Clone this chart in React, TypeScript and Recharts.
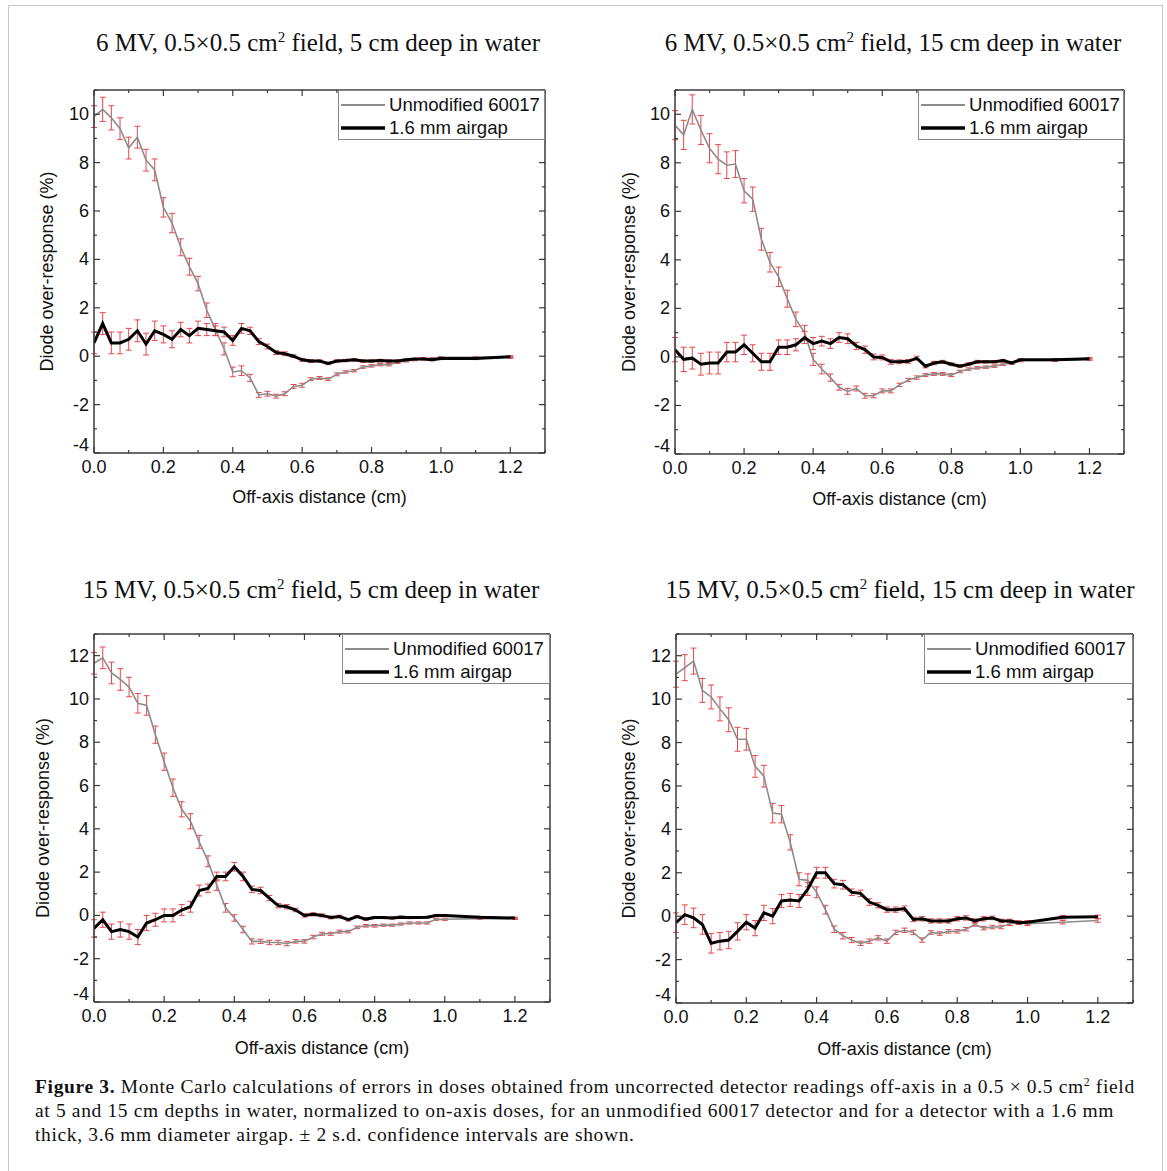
import React from 'react';
import { LineChart, Line, XAxis, YAxis, ErrorBar, Legend } from 'recharts';

// off-axis positions (cm), shared by all four panels
const offAxis = [
    0, 0.025, 0.05, 0.075, 0.1, 0.125, 0.15, 0.175, 0.2, 0.225,
    0.25, 0.275, 0.3, 0.325, 0.35, 0.375, 0.4, 0.425, 0.45, 0.475,
    0.5, 0.525, 0.55, 0.575, 0.6, 0.625, 0.65, 0.675, 0.7, 0.725,
    0.75, 0.775, 0.8, 0.825, 0.85, 0.875, 0.9, 0.925, 0.95, 0.975,
    1.0, 1.1, 1.2,
];

// 6 MV, 5 cm
const unmod6MV5cm = [
    9.9, 10.2, 9.85, 9.4, 8.6, 9.05, 8.1, 7.7, 6.15, 5.5,
    4.5, 3.7, 3.0, 1.9, 1.1, 0.3, -0.65, -0.6, -0.9, -1.6,
    -1.55, -1.65, -1.55, -1.25, -1.2, -0.95, -0.9, -0.95, -0.75, -0.65,
    -0.6, -0.45, -0.4, -0.35, -0.35, -0.25, -0.2, -0.15, -0.1, -0.1,
    -0.05, -0.05, -0.05,
];
const unmod6MV5cmErr = [
    0.45, 0.5, 0.5, 0.45, 0.45, 0.45, 0.45, 0.45, 0.4, 0.4,
    0.35, 0.35, 0.3, 0.3, 0.25, 0.25, 0.2, 0.2, 0.15, 0.1,
    0.1, 0.08, 0.08, 0.08, 0.08, 0.06, 0.06, 0.06, 0.06, 0.05,
    0.05, 0.05, 0.05, 0.05, 0.05, 0.05, 0.04, 0.04, 0.04, 0.04,
    0.04, 0.04, 0.04,
];
const gap6MV5cm = [
    0.55, 1.35, 0.55, 0.55, 0.7, 1.05, 0.5, 1.05, 0.9, 0.7,
    1.1, 0.85, 1.15, 1.1, 1.05, 1.0, 0.65, 1.15, 1.05, 0.6,
    0.4, 0.15, 0.1, 0.0, -0.15, -0.2, -0.2, -0.3, -0.2, -0.18,
    -0.15, -0.2, -0.2, -0.18, -0.2, -0.2, -0.15, -0.12, -0.12, -0.15,
    -0.1, -0.1, -0.02,
];
const gap6MV5cmErr = [
    0.45, 0.45, 0.45, 0.45, 0.45, 0.45, 0.45, 0.4, 0.35, 0.35,
    0.3, 0.3, 0.3, 0.25, 0.2, 0.2, 0.2, 0.2, 0.15, 0.12,
    0.1, 0.08, 0.08, 0.06, 0.06, 0.06, 0.05, 0.05, 0.05, 0.05,
    0.05, 0.05, 0.05, 0.05, 0.05, 0.05, 0.04, 0.04, 0.04, 0.04,
    0.04, 0.04, 0.04,
];

// 6 MV, 15 cm
const unmod6MV15cm = [
    9.55, 9.15, 10.2, 9.35, 8.6, 8.15, 7.9, 7.95, 6.85, 6.5,
    4.85, 3.9, 3.3, 2.4, 1.55, 1.0, -0.1, -0.5, -0.85, -1.25,
    -1.42, -1.3, -1.6, -1.6, -1.4, -1.4, -1.15, -0.95, -0.85, -0.75,
    -0.7, -0.7, -0.75, -0.6, -0.5, -0.45, -0.42, -0.38, -0.3, -0.25,
    -0.15, -0.15, -0.1,
];
const unmod6MV15cmErr = [
    0.6, 0.6, 0.6, 0.6, 0.6, 0.6, 0.55, 0.55, 0.5, 0.5,
    0.45, 0.4, 0.4, 0.35, 0.3, 0.3, 0.25, 0.2, 0.15, 0.12,
    0.12, 0.1, 0.1, 0.08, 0.08, 0.08, 0.07, 0.07, 0.07, 0.06,
    0.06, 0.06, 0.06, 0.05, 0.05, 0.05, 0.05, 0.05, 0.05, 0.05,
    0.05, 0.04, 0.04,
];
const gap6MV15cm = [
    0.3, -0.1, -0.05, -0.3, -0.25, -0.25, 0.2, 0.2, 0.5, 0.15,
    -0.2, -0.2, 0.4, 0.4, 0.5, 0.8, 0.55, 0.65, 0.55, 0.8,
    0.75, 0.45, 0.3, 0.0, -0.02, -0.2, -0.2, -0.18, -0.05, -0.38,
    -0.25, -0.2, -0.3, -0.38, -0.3, -0.2, -0.2, -0.2, -0.15, -0.25,
    -0.12, -0.12, -0.07,
];
const gap6MV15cmErr = [
    0.5, 0.5, 0.45, 0.45, 0.45, 0.45, 0.4, 0.4, 0.4, 0.35,
    0.35, 0.35, 0.3, 0.3, 0.25, 0.25, 0.25, 0.2, 0.2, 0.2,
    0.2, 0.15, 0.15, 0.12, 0.1, 0.1, 0.08, 0.08, 0.08, 0.07,
    0.07, 0.06, 0.06, 0.06, 0.06, 0.06, 0.05, 0.05, 0.05, 0.05,
    0.05, 0.05, 0.05,
];

// 15 MV, 5 cm
const unmod15MV5cm = [
    11.65, 11.9, 11.2, 10.9, 10.55, 9.8, 9.7, 8.35, 7.1, 5.9,
    4.9, 4.35, 3.4, 2.5, 1.4, 0.35, -0.12, -0.65, -1.2, -1.2,
    -1.25, -1.25, -1.3, -1.2, -1.2, -1.0, -0.85, -0.85, -0.75, -0.75,
    -0.55, -0.48, -0.48, -0.45, -0.45, -0.4, -0.35, -0.35, -0.35, -0.18,
    -0.18, -0.15, -0.15,
];
const unmod15MV5cmErr = [
    0.5, 0.5, 0.5, 0.5, 0.45, 0.45, 0.45, 0.4, 0.4, 0.4,
    0.35, 0.35, 0.3, 0.25, 0.25, 0.2, 0.15, 0.15, 0.12, 0.1,
    0.1, 0.1, 0.1, 0.08, 0.08, 0.08, 0.07, 0.07, 0.07, 0.06,
    0.06, 0.06, 0.06, 0.05, 0.05, 0.05, 0.05, 0.05, 0.05, 0.05,
    0.05, 0.04, 0.04,
];
const gap15MV5cm = [
    -0.6, -0.2, -0.75, -0.65, -0.75, -1.0, -0.35, -0.2, 0.0, 0.0,
    0.25, 0.4, 1.15, 1.25, 1.8, 1.8, 2.25, 1.8, 1.2, 1.15,
    0.8, 0.45, 0.4, 0.25, 0.0, 0.05, 0.0, -0.1, -0.05, -0.2,
    -0.05, -0.17, -0.1, -0.1, -0.12, -0.08, -0.1, -0.1, -0.08, 0.0,
    0.0, -0.08, -0.12,
];
const gap15MV5cmErr = [
    0.4, 0.35, 0.35, 0.35, 0.35, 0.35, 0.35, 0.3, 0.3, 0.3,
    0.25, 0.25, 0.25, 0.2, 0.2, 0.2, 0.2, 0.2, 0.15, 0.15,
    0.12, 0.1, 0.1, 0.08, 0.08, 0.07, 0.07, 0.06, 0.06, 0.06,
    0.05, 0.05, 0.05, 0.05, 0.05, 0.05, 0.05, 0.04, 0.04, 0.04,
    0.04, 0.04, 0.04,
];

// 15 MV, 15 cm
const unmod15MV15cm = [
    11.15, 11.45, 11.75, 10.4, 10.1, 9.55, 9.05, 8.15, 8.15, 6.9,
    6.45, 4.75, 4.7, 3.4, 1.7, 1.65, 1.1, 0.3, -0.6, -0.9,
    -1.1, -1.25, -1.15, -1.0, -1.15, -0.75, -0.65, -0.75, -1.1, -0.75,
    -0.8, -0.7, -0.7, -0.6, -0.38, -0.55, -0.5, -0.5, -0.35, -0.3,
    -0.35, -0.28, -0.2,
];
const unmod15MV15cmErr = [
    0.6, 0.6, 0.6, 0.55, 0.55, 0.55, 0.55, 0.55, 0.5, 0.5,
    0.5, 0.45, 0.4, 0.35, 0.3, 0.3, 0.25, 0.2, 0.15, 0.15,
    0.12, 0.1, 0.1, 0.1, 0.1, 0.1, 0.1, 0.1, 0.1, 0.08,
    0.08, 0.08, 0.08, 0.08, 0.08, 0.08, 0.08, 0.08, 0.08, 0.08,
    0.08, 0.08, 0.08,
];
const gap15MV15cm = [
    -0.3, 0.07, -0.08, -0.38, -1.25, -1.15, -1.1, -0.7, -0.28, -0.55,
    0.15, 0.0, 0.7, 0.75, 0.7, 1.25, 2.0, 2.0, 1.5, 1.45,
    1.1, 1.05, 0.65, 0.5, 0.3, 0.3, 0.35, -0.15, -0.12, -0.22,
    -0.22, -0.22, -0.12, -0.08, -0.22, -0.12, -0.08, -0.22, -0.22, -0.3,
    -0.28, -0.05, -0.03,
];
const gap15MV15cmErr = [
    0.45, 0.45, 0.45, 0.45, 0.45, 0.4, 0.4, 0.4, 0.35, 0.35,
    0.35, 0.35, 0.3, 0.3, 0.3, 0.3, 0.25, 0.25, 0.2, 0.2,
    0.15, 0.15, 0.15, 0.12, 0.12, 0.12, 0.12, 0.1, 0.1, 0.1,
    0.1, 0.1, 0.1, 0.1, 0.1, 0.1, 0.08, 0.08, 0.08, 0.08,
    0.08, 0.08, 0.08,
];

const xTicks = [0, 0.1, 0.2, 0.3, 0.4, 0.5, 0.6, 0.7, 0.8, 0.9, 1.0, 1.1, 1.2, 1.3];
const yTicks11 = [-4, -3, -2, -1, 0, 1, 2, 3, 4, 5, 6, 7, 8, 9, 10, 11];
const yTicks13 = [-4, -3, -2, -1, 0, 1, 2, 3, 4, 5, 6, 7, 8, 9, 10, 11, 12, 13];

const SANS = '"Liberation Sans", Arial, sans-serif';
const SERIF = '"Liberation Serif", "Times New Roman", serif';
const AXIS = '#3a3a3a';
const ERR = '#e8474a';

const isMajorX = (v: number) => Math.round(v * 10) % 2 === 0;
const isMajorY = (v: number) => Math.abs(v) % 2 === 0;

// ticks point inwards, like the original plot; labels only on major ticks
const BottomTick = (props: any) => {
    const { x, y, payload } = props;
    const v = payload.value;
    const major = isMajorX(v);
    return (
        <g>
            <line x1={x} y1={y} x2={x} y2={y - (major ? 6 : 3)} stroke={AXIS} strokeWidth={1.2} />
            {major && v <= 1.2 && (
                <text x={x} y={y + 20} textAnchor="middle" fontSize={18} fontFamily={SANS} fill="#111">
                    {v.toFixed(1)}
                </text>
            )}
        </g>
    );
};

const TopTick = (props: any) => {
    const { x, y, payload } = props;
    const major = isMajorX(payload.value);
    return <line x1={x} y1={y} x2={x} y2={y + (major ? 6 : 3)} stroke={AXIS} strokeWidth={1.2} />;
};

const LeftTick = (props: any) => {
    const { x, y, payload } = props;
    const v = payload.value;
    const major = isMajorY(v);
    // the lowest label sits a little higher so it clears the "0.0" below it
    const dy = v === -4 ? -2 : 6;
    return (
        <g>
            <line x1={x} y1={y} x2={x + (major ? 6 : 3)} y2={y} stroke={AXIS} strokeWidth={1.2} />
            {major && (
                <text x={x - 5} y={y + dy} textAnchor="end" fontSize={18} fontFamily={SANS} fill="#111">
                    {v}
                </text>
            )}
        </g>
    );
};

const RightTick = (props: any) => {
    const { x, y, payload } = props;
    const major = isMajorY(payload.value);
    return <line x1={x} y1={y} x2={x - (major ? 6 : 3)} y2={y} stroke={AXIS} strokeWidth={1.2} />;
};

const LegendBox = ({ width }: { width: number }) => (
    <div
        style={{
            width,
            height: 50,
            boxSizing: 'border-box',
            border: '1px solid #888',
            background: '#fff',
            fontFamily: SANS,
            fontSize: 18.6,
            color: '#111',
            paddingTop: 2,
            whiteSpace: 'nowrap',
        }}
    >
        <div style={{ display: 'flex', alignItems: 'center', height: 23 }}>
            <svg width={48} height={10} style={{ marginLeft: 2 }}>
                <line x1={0} y1={5} x2={44} y2={5} stroke="#8c8c8c" strokeWidth={2} />
            </svg>
            <span>Unmodified 60017</span>
        </div>
        <div style={{ display: 'flex', alignItems: 'center', height: 23 }}>
            <svg width={48} height={10} style={{ marginLeft: 2 }}>
                <line x1={0} y1={5} x2={44} y2={5} stroke="#000" strokeWidth={3.5} />
            </svg>
            <span>1.6 mm airgap</span>
        </div>
    </div>
);

interface PanelProps {
    left: number;
    top: number;
    width: number;
    height: number;
    plot: { top: number; right: number; bottom: number; left: number }; // plot edges, chart-local px
    unmod: number[];
    unmodErr: number[];
    gap: number[];
    gapErr: number[];
    yMax: number;
    yTicks: number[];
    yLabelOffset: number;
    xLabelOffset: number;
    legendWidth: number;
}

const Panel: React.FC<PanelProps> = (p) => {
    const data = offAxis.map((x, i) => ({
        x,
        unmod: p.unmod[i],
        unmodErr: p.unmodErr[i],
        gap: p.gap[i],
        gapErr: p.gapErr[i],
    }));
    // every axis takes 1px, so the margins are one less than the plot edges
    const margin = {
        top: p.plot.top - 1,
        left: p.plot.left - 1,
        right: p.width - p.plot.right - 1,
        bottom: p.height - p.plot.bottom - 1,
    };
    return (
        <div style={{ position: 'absolute', left: p.left, top: p.top }}>
            <LineChart width={p.width} height={p.height} data={data} margin={margin}>
                <XAxis
                    xAxisId="bottom"
                    dataKey="x"
                    type="number"
                    domain={[0, 1.3]}
                    ticks={xTicks}
                    height={1}
                    tickSize={0}
                    tickMargin={0}
                    tickLine={false}
                    tick={<BottomTick />}
                    interval={0}
                    allowDataOverflow
                    axisLine={{ stroke: AXIS, strokeWidth: 1.5 }}
                    label={{
                        value: 'Off-axis distance (cm)',
                        position: 'bottom',
                        offset: p.xLabelOffset,
                        style: { fontFamily: SANS, fontSize: 18, fill: '#111' },
                    }}
                />
                <XAxis
                    xAxisId="top"
                    orientation="top"
                    dataKey="x"
                    type="number"
                    domain={[0, 1.3]}
                    ticks={xTicks}
                    height={1}
                    tickSize={0}
                    tickMargin={0}
                    tickLine={false}
                    tick={<TopTick />}
                    interval={0}
                    allowDataOverflow
                    axisLine={{ stroke: AXIS, strokeWidth: 1.5 }}
                />
                <YAxis
                    yAxisId="left"
                    type="number"
                    domain={[-4, p.yMax]}
                    ticks={p.yTicks}
                    width={1}
                    tickSize={0}
                    tickMargin={0}
                    tickLine={false}
                    tick={<LeftTick />}
                    interval={0}
                    allowDataOverflow
                    axisLine={{ stroke: AXIS, strokeWidth: 1.5 }}
                    label={{
                        value: 'Diode over-response (%)',
                        angle: -90,
                        position: 'insideLeft',
                        offset: p.yLabelOffset,
                        style: { fontFamily: SANS, fontSize: 18, fill: '#111', textAnchor: 'middle' },
                    }}
                />
                <YAxis
                    yAxisId="right"
                    orientation="right"
                    type="number"
                    domain={[-4, p.yMax]}
                    ticks={p.yTicks}
                    width={1}
                    tickSize={0}
                    tickMargin={0}
                    tickLine={false}
                    tick={<RightTick />}
                    interval={0}
                    allowDataOverflow
                    axisLine={{ stroke: AXIS, strokeWidth: 1.5 }}
                />
                <Line
                    xAxisId="bottom"
                    yAxisId="left"
                    type="linear"
                    dataKey="unmod"
                    name="Unmodified 60017"
                    stroke="#8c8c8c"
                    strokeWidth={1.6}
                    dot={false}
                    isAnimationActive={false}
                >
                    <ErrorBar dataKey="unmodErr" direction="y" width={3} stroke={ERR} strokeWidth={1} />
                </Line>
                <Line
                    xAxisId="bottom"
                    yAxisId="left"
                    type="linear"
                    dataKey="gap"
                    name="1.6 mm airgap"
                    stroke="#000"
                    strokeWidth={3}
                    dot={false}
                    isAnimationActive={false}
                >
                    <ErrorBar dataKey="gapErr" direction="y" width={3} stroke={ERR} strokeWidth={1} />
                </Line>
                <Legend
                    layout="horizontal"
                    verticalAlign="middle"
                    align="center"
                    wrapperStyle={{ top: p.plot.top, left: p.plot.right - p.legendWidth, width: p.legendWidth }}
                    content={() => <LegendBox width={p.legendWidth} />}
                />
            </LineChart>
        </div>
    );
};

const Title: React.FC<{ cx: number; top: number; mv: string; depth: string }> = ({ cx, top, mv, depth }) => (
    <div
        style={{
            position: 'absolute',
            left: cx - 300,
            top,
            width: 600,
            textAlign: 'center',
            fontFamily: SERIF,
            fontSize: 25,
            color: '#111',
            whiteSpace: 'nowrap',
        }}
    >
        {mv} MV, 0.5×0.5 cm<sup style={{ fontSize: '0.6em', lineHeight: 0 }}>2</sup> field, {depth} cm deep in water
    </div>
);

const App: React.FC = () => {
    return (
        <div
            style={{
                position: 'absolute',
                left: 0,
                top: 0,
                width: 1167,
                height: 1171,
                overflow: 'hidden',
                background: '#fff',
            }}
        >
            <div
                style={{
                    position: 'absolute',
                    left: 8,
                    top: 5,
                    width: 1153,
                    height: 1180,
                    border: '1.5px solid #c8c8c8',
                }}
            />
            <Title cx={318} top={29} mv="6" depth="5" />
            <Title cx={893} top={29} mv="6" depth="15" />
            <Title cx={311} top={576} mv="15" depth="5" />
            <Title cx={900} top={576} mv="15" depth="15" />

            <Panel
                left={0}
                top={0}
                width={583}
                height={540}
                plot={{ top: 90, right: 545, bottom: 453, left: 94 }}
                unmod={unmod6MV5cm}
                unmodErr={unmod6MV5cmErr}
                gap={gap6MV5cm}
                gapErr={gap6MV5cmErr}
                yMax={11}
                yTicks={yTicks11}
                yLabelOffset={-46}
                xLabelOffset={36}
                legendWidth={207}
            />
            <Panel
                left={583}
                top={0}
                width={584}
                height={540}
                plot={{ top: 90, right: 541, bottom: 454, left: 92 }}
                unmod={unmod6MV15cm}
                unmodErr={unmod6MV15cmErr}
                gap={gap6MV15cm}
                gapErr={gap6MV15cmErr}
                yMax={11}
                yTicks={yTicks11}
                yLabelOffset={-45}
                xLabelOffset={37}
                legendWidth={206}
            />
            <Panel
                left={0}
                top={545}
                width={583}
                height={520}
                plot={{ top: 89, right: 550, bottom: 457, left: 94 }}
                unmod={unmod15MV5cm}
                unmodErr={unmod15MV5cmErr}
                gap={gap15MV5cm}
                gapErr={gap15MV5cmErr}
                yMax={13}
                yTicks={yTicks13}
                yLabelOffset={-50}
                xLabelOffset={38}
                legendWidth={208}
            />
            <Panel
                left={583}
                top={545}
                width={584}
                height={520}
                plot={{ top: 89, right: 550, bottom: 458, left: 93 }}
                unmod={unmod15MV15cm}
                unmodErr={unmod15MV15cmErr}
                gap={gap15MV15cm}
                gapErr={gap15MV15cmErr}
                yMax={13}
                yTicks={yTicks13}
                yLabelOffset={-46}
                xLabelOffset={38}
                legendWidth={209}
            />

            <div
                style={{
                    position: 'absolute',
                    left: 35,
                    top: 1075,
                    fontFamily: SERIF,
                    fontSize: 19.5,
                    letterSpacing: '0.65px',
                    lineHeight: '24px',
                    color: '#111',
                    whiteSpace: 'nowrap',
                }}
            >
                <div>
                    <b>Figure 3.</b> Monte Carlo calculations of errors in doses obtained from uncorrected detector readings
                    off-axis in a 0.5 × 0.5 cm<sup style={{ fontSize: '0.6em', lineHeight: 0 }}>2</sup> field
                </div>
                <div>
                    at 5 and 15 cm depths in water, normalized to on-axis doses, for an unmodified 60017 detector and for a
                    detector with a 1.6 mm
                </div>
                <div>thick, 3.6 mm diameter airgap. ± 2 s.d. confidence intervals are shown.</div>
            </div>
        </div>
    );
};

export default App;
